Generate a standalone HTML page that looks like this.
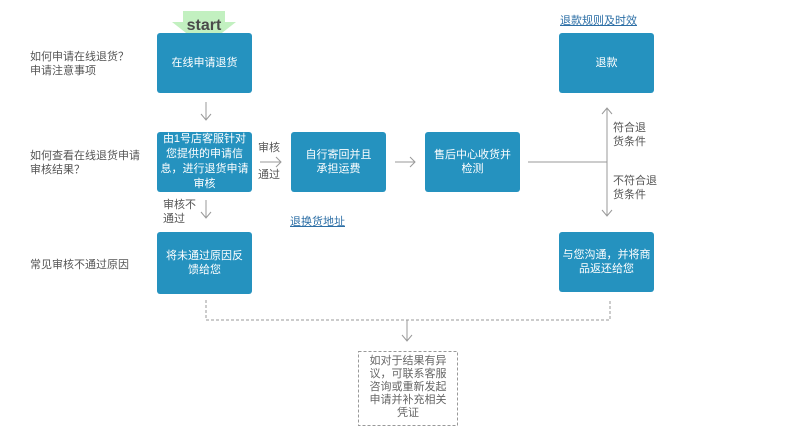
<!DOCTYPE html>
<html><head><meta charset="utf-8"><style>
body{margin:0;width:795px;height:439px;background:#fff;position:relative;overflow:hidden;font-family:"Liberation Sans","Noto Sans CJK SC",sans-serif;}
.b{position:absolute;width:95px;height:60px;background:#2592bf;border-radius:3px;color:#fff;font-size:11px;line-height:14px;display:flex;align-items:center;justify-content:center;text-align:center;}
.t{position:absolute;font-size:11px;line-height:14px;color:#555;}
.l{position:absolute;font-size:11px;color:#2d6fa6;text-decoration:underline;}
</style></head><body>
<svg width="795" height="439" style="position:absolute;left:0;top:0">
<polygon points="183,11 225,11 225,22 236,22 204,47 172,22 183,22" fill="#c2f0c0"/>
<g stroke="#999" stroke-width="1" fill="none">
<path d="M206,102V120M201,114L206,120L211,114"/>
<path d="M206,200V218M201,212L206,218L211,212"/>
<path d="M260,162H281M276,157L281,162L276,167"/>
<path d="M395,162H415M410,157L415,162L410,167"/>
<path d="M528,162H607"/>
<path d="M607,108V216M602,114L607,108L612,114M602,210L607,216L612,210"/>
<path d="M407,320V341M402,335L407,341L412,335"/>
<path d="M206,300V320H610V300" stroke-dasharray="3,2"/>
<rect x="358.5" y="351.5" width="99" height="74" stroke-dasharray="3,2"/>
</g>
<text x="204" y="30" font-family="Liberation Sans" font-weight="bold" font-size="16" fill="#4a4a4a" text-anchor="middle">start</text>
</svg>
<div class="b" style="left:157px;top:33px">在线申请退货</div>
<div class="b" style="left:157px;top:132px;line-height:15px">由1号店客服针对<br>您提供的申请信<br>息，进行退货申请<br>审核</div>
<div class="b" style="left:157px;top:232px;height:62px">将未通过原因反<br>馈给您</div>
<div class="b" style="left:291px;top:132px">自行寄回并且<br>承担运费</div>
<div class="b" style="left:425px;top:132px">售后中心收货并<br>检测</div>
<div class="b" style="left:559px;top:33px">退款</div>
<div class="b" style="left:559px;top:232px">与您沟通，并将商<br>品返还给您</div>
<div class="t" style="left:30px;top:50px">如何申请在线退货？<br>申请注意事项</div>
<div class="t" style="left:30px;top:149px">如何查看在线退货申请<br>审核结果？</div>
<div class="t" style="left:30px;top:258px">常见审核不通过原因</div>
<div class="t" style="left:258px;top:141px">审核</div>
<div class="t" style="left:258px;top:168px">通过</div>
<div class="t" style="left:163px;top:198px">审核不<br>通过</div>
<div class="t" style="left:613px;top:121px">符合退<br>货条件</div>
<div class="t" style="left:613px;top:174px">不符合退<br>货条件</div>
<div class="l" style="left:290px;top:213px">退换货地址</div>
<div class="l" style="left:560px;top:12px">退款规则及时效</div>
<div class="t" style="left:358px;top:355px;width:100px;text-align:center;line-height:13px;color:#666">如对于结果有异<br>议，可联系客服<br>咨询或重新发起<br>申请并补充相关<br>凭证</div>
</body></html>
